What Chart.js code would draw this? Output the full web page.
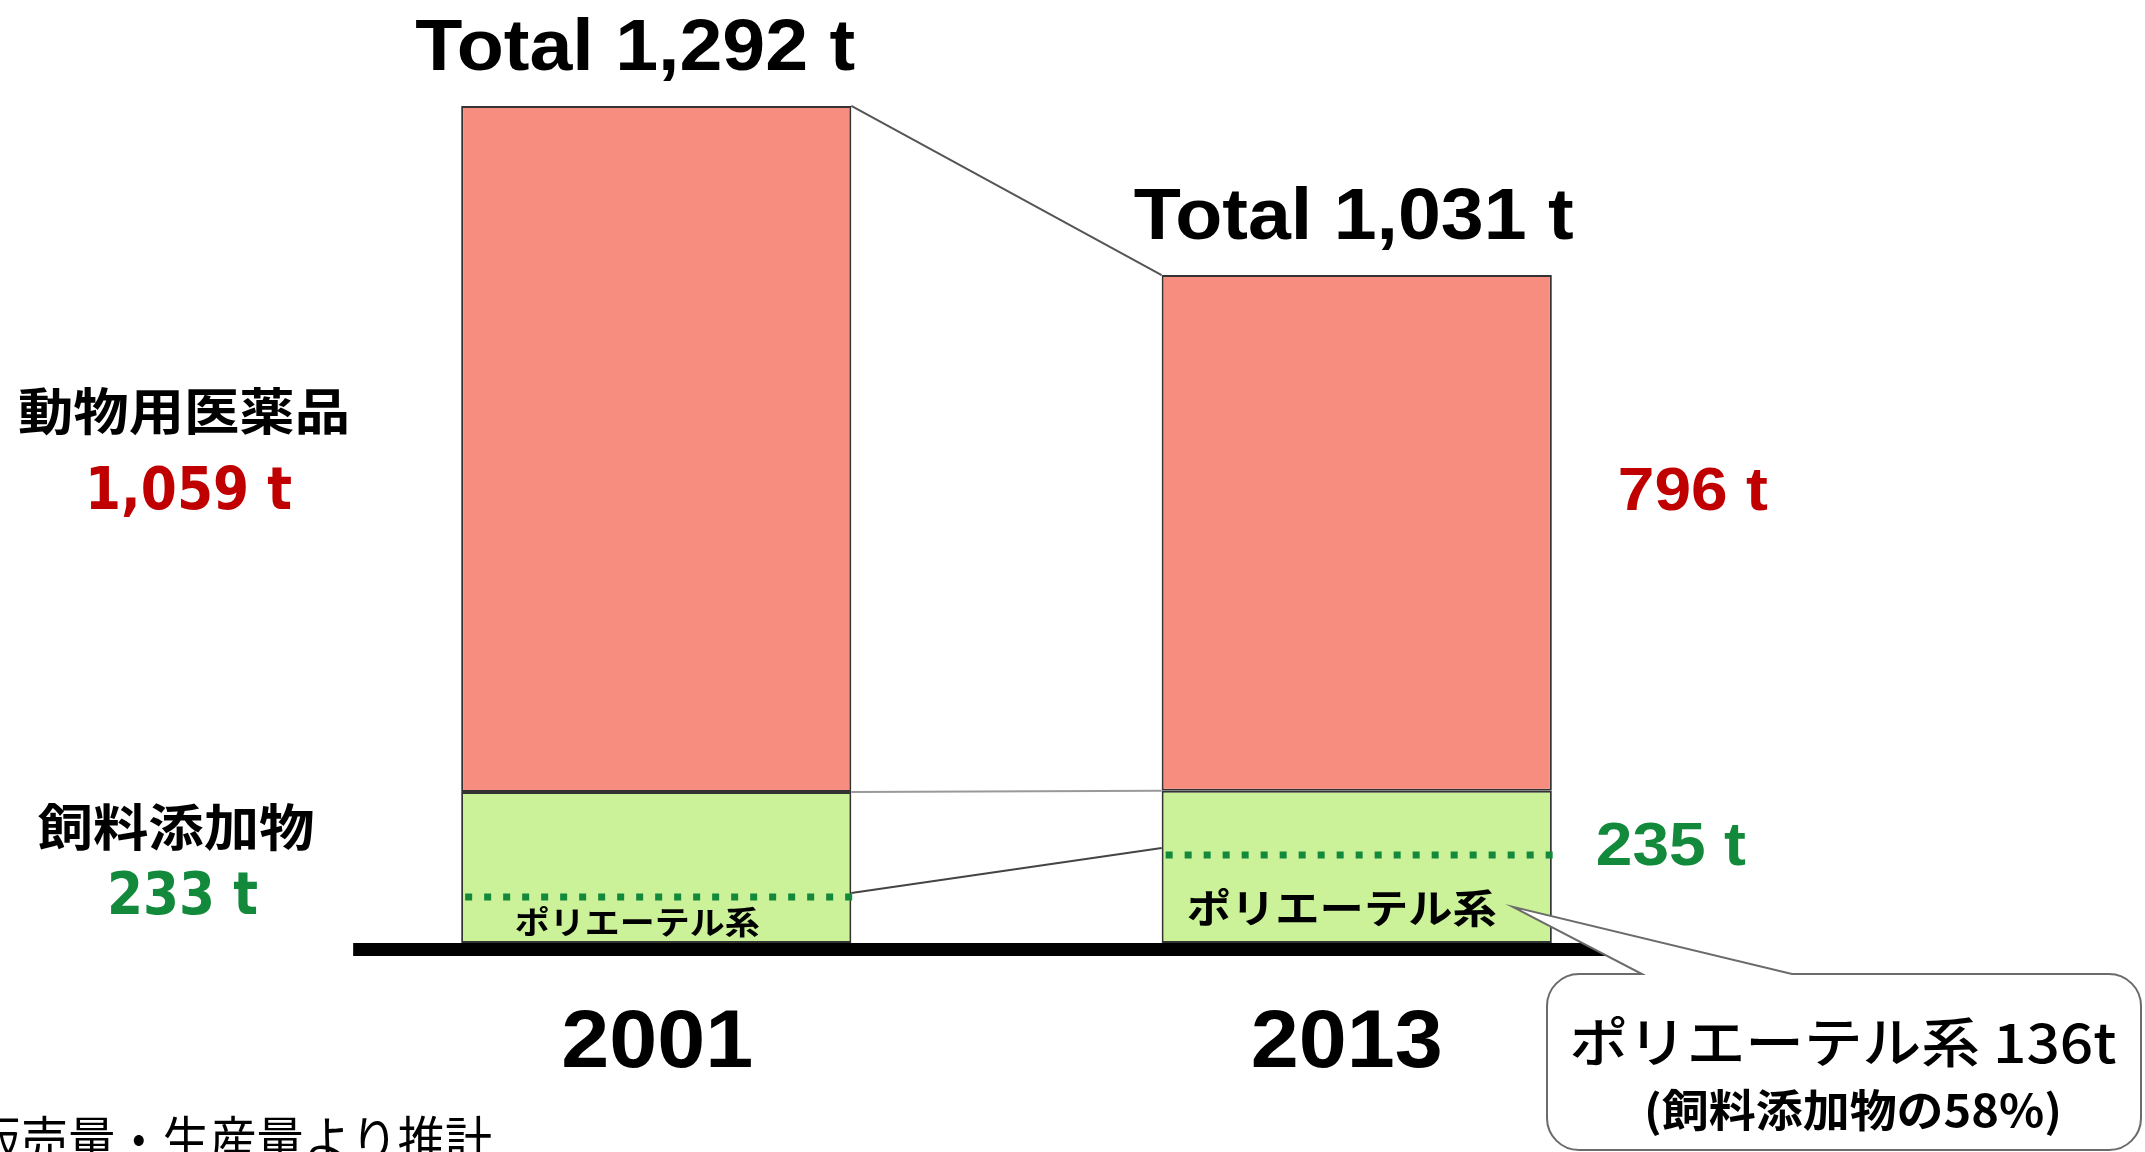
<!DOCTYPE html>
<html>
<head>
<meta charset="utf-8">
<script src="https://cdn.jsdelivr.net/npm/chart.js@4"></script>
<style>
  html, body { margin: 0; padding: 0; background: #fff; }
  #wrap { width: 2145px; height: 1152px; position: relative; }
</style>
</head>
<body>
<div id="wrap"><canvas id="chart"></canvas></div>
<script>
// ----------------------------
// Data (t)
// ----------------------------
const years = ["2001", "2013"];
const feedAdditive = [233, 235];   // 飼料添加物
const vetDrugs = [1059, 796];      // 動物用医薬品
const polyether = [71, 136];       // ポリエーテル系
const yMax = 1400;

const RED = "#C00000";
const GREEN = "#12893B";
const CJK = "'Noto Sans CJK JP'";
const LAT = "'Liberation Sans'";

const fmt = (n) => n.toLocaleString("en-US");

// text helper: squeezes/stretches horizontally to a target width
function txt(ctx, s, x, y, o) {
  ctx.save();
  ctx.font = `${o.weight || "bold"} ${o.size}px ${o.family || CJK}`;
  ctx.fillStyle = o.color || "#000";
  ctx.textBaseline = o.base || "middle";
  ctx.textAlign = o.align || "center";
  const w = ctx.measureText(s).width;
  const sx = o.width ? o.width / w : 1;
  ctx.translate(x, y);
  ctx.scale(sx, 1);
  ctx.fillText(s, 0, 0);
  ctx.restore();
}

// ----------------------------
// Overlay: dotted lines, connectors, labels, axis, callout
// ----------------------------
const overlay = {
  id: "overlay",
  afterDatasetsDraw(chart) {
    const ctx = chart.ctx;
    const yS = chart.scales.y;
    const feed = chart.getDatasetMeta(0).data;
    const drug = chart.getDatasetMeta(1).data;
    const left = (b) => b.x - b.width / 2;
    const right = (b) => b.x + b.width / 2;
    const polyY = polyether.map((v) => yS.getPixelForValue(v));

    // connectors between the two bars
    ctx.save();
    ctx.lineWidth = 2;
    ctx.strokeStyle = "#555";
    ctx.beginPath();
    ctx.moveTo(right(drug[0]), drug[0].y);
    ctx.lineTo(left(drug[1]), drug[1].y);
    ctx.stroke();
    ctx.strokeStyle = "#999";
    ctx.beginPath();
    ctx.moveTo(right(feed[0]), feed[0].y);
    ctx.lineTo(left(feed[1]), feed[1].y);
    ctx.stroke();
    ctx.strokeStyle = "#444";
    ctx.beginPath();
    ctx.moveTo(right(feed[0]), polyY[0] - 4);
    ctx.lineTo(left(feed[1]), polyY[1] - 7);
    ctx.stroke();
    ctx.restore();

    // polyether dotted lines + labels
    ctx.save();
    ctx.strokeStyle = GREEN;
    ctx.lineWidth = 7;
    ctx.setLineDash([7, 12]);
    feed.forEach((b, i) => {
      ctx.beginPath();
      ctx.moveTo(left(b) + 4, polyY[i]);
      ctx.lineTo(right(b) + 4, polyY[i]);
      ctx.stroke();
    });
    ctx.restore();
    txt(ctx, "ポリエーテル系", feed[0].x - 19, polyY[0] + 25, { size: 32, width: 245 });
    txt(ctx, "ポリエーテル系", feed[1].x - 15, polyY[1] + 53, { size: 40, width: 310 });

    // totals
    drug.forEach((b, i) => {
      const total = feedAdditive[i] + vetDrugs[i];
      txt(ctx, `Total ${fmt(total)} t`, b.x + (i === 0 ? -21 : -3), b.y - 36,
        { size: 73, width: 440, family: LAT, base: "alphabetic" });
    });

    // left side labels (2001)
    txt(ctx, "動物用医薬品", 184, 411, { size: 50, width: 332 });
    txt(ctx, `${fmt(vetDrugs[0])} t`, 85, 509,
      { size: 58, width: 207, family: "'DejaVu Sans'", color: RED, base: "alphabetic", align: "left" });
    txt(ctx, "飼料添加物", 176, 827, { size: 50, width: 277 });
    txt(ctx, `${fmt(feedAdditive[0])} t`, 107, 914,
      { size: 58, width: 151, family: "'DejaVu Sans'", color: GREEN, base: "alphabetic", align: "left" });

    // right side labels (2013)
    txt(ctx, `${fmt(vetDrugs[1])} t`, right(drug[1]) + 66, 510,
      { size: 62, width: 150, family: LAT, color: RED, base: "alphabetic", align: "left" });
    txt(ctx, `${fmt(feedAdditive[1])} t`, right(feed[1]) + 44, 865,
      { size: 61, width: 150, family: LAT, color: GREEN, base: "alphabetic", align: "left" });

    // year labels
    years.forEach((yr, i) => {
      txt(ctx, yr, feed[i].x + (i === 0 ? 1 : -10), 1067,
        { size: 82, width: 192, family: LAT, base: "alphabetic" });
    });

    // baseline
    const base = feed[0].base;
    ctx.save();
    ctx.fillStyle = "#000";
    ctx.fillRect(left(feed[0]) - 108, base, right(feed[1]) - left(feed[0]) + 198, 13);
    ctx.restore();

    // callout
    const L = 1547, T = 974, R = 2141, B = 1150, r = 32;
    const tipX = right(feed[1]) - 39, tipY = polyY[1] + 52;
    ctx.save();
    ctx.beginPath();
    ctx.moveTo(L + r, T);
    ctx.lineTo(1642, T);
    ctx.lineTo(tipX, tipY);
    ctx.lineTo(1792, T);
    ctx.arcTo(R, T, R, B, r);
    ctx.arcTo(R, B, L, B, r);
    ctx.arcTo(L, B, L, T, r);
    ctx.arcTo(L, T, R, T, r);
    ctx.closePath();
    ctx.fillStyle = "#fff";
    ctx.fill();
    ctx.lineWidth = 2;
    ctx.strokeStyle = "#6b6b6b";
    ctx.stroke();
    ctx.restore();
    const share = Math.round(polyether[1] / feedAdditive[1] * 100);
    txt(ctx, `ポリエーテル系 ${polyether[1]}t`, 1843, 1042, { size: 54, width: 547, weight: "500" });
    txt(ctx, `(飼料添加物の${share}%)`, 1853, 1110, { size: 44, width: 418 });

    // footnote (cut off at the page edge)
    txt(ctx, "販売量・生産量より推計", -26, 1140, { size: 52, width: 518, weight: "normal", align: "left" });
  }
};

// ----------------------------
// Chart
// ----------------------------
new Chart(document.getElementById("chart"), {
  type: "bar",
  data: {
    labels: years,
    datasets: [
      {
        label: "飼料添加物",
        data: feedAdditive,
        backgroundColor: "#CBF298",
        borderColor: "#333",
        borderWidth: 2,
        borderSkipped: false
      },
      {
        label: "動物用医薬品",
        data: vetDrugs,
        backgroundColor: "#F68D7E",
        borderColor: "#333",
        borderWidth: 2,
        borderSkipped: false
      }
    ]
  },
  options: {
    responsive: true,
    maintainAspectRatio: false,
    animation: false,
    layout: { padding: { left: 306, right: 438, top: 36, bottom: 209 } },
    datasets: { bar: { categoryPercentage: 1, barPercentage: 0.557 } },
    plugins: { legend: { display: false }, tooltip: { enabled: false } },
    scales: {
      x: { stacked: true, display: false },
      y: { stacked: true, display: false, min: 0, max: yMax }
    }
  },
  plugins: [overlay]
});
</script>
</body>
</html>
